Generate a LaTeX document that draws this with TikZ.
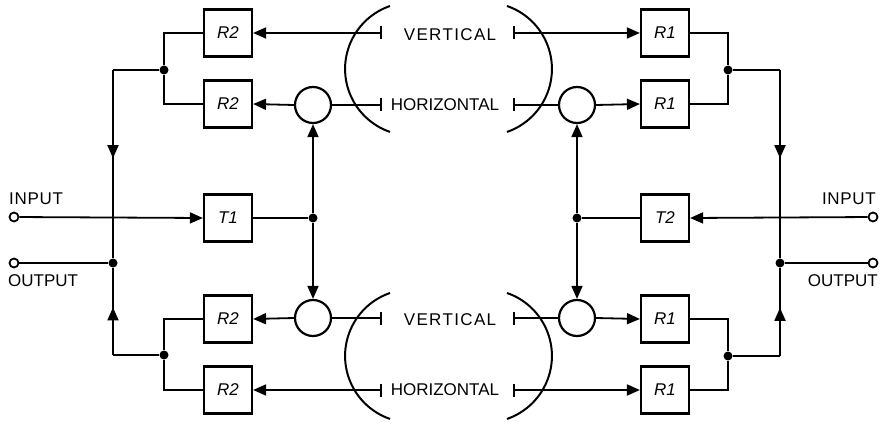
\documentclass[tikz,border=0pt]{standalone}
\usepackage{fontspec}
\setmainfont{Liberation Sans}
\usetikzlibrary{arrows.meta,decorations.markings}

\begin{document}
\begin{tikzpicture}[x=1pt,y=-1pt,
    font=\fontsize{17}{20}\selectfont,
    line width=1.8pt,
    block/.style={draw, line width=2.2pt, minimum width=48pt, minimum height=47pt, inner sep=0pt, font=\fontsize{17}{20}\selectfont\itshape},
    mixer/.style={draw, circle, line width=2.2pt, minimum size=36pt, inner sep=0pt},
    dot/.style={circle, fill, inner sep=0pt, minimum size=9pt},
    term/.style={circle, draw, fill=white, line width=1.8pt, inner sep=0pt, minimum size=9pt},
    port/.style={font=\fontsize{17}{20}\selectfont\addfontfeature{LetterSpace=#1}},
    feed/.style={arrows={-Triangle[length=13pt,width=11pt]}},
    bar/.style={arrows={Bar[width=13pt]-}},
    barfeed/.style={arrows={Bar[width=13pt]-Triangle[length=13pt,width=11pt]}},
    midarrow/.style={postaction={decorate}, decoration={markings, mark=at position #1 with {\arrow{Triangle[length=13pt,width=11pt]}}}}]
    \useasboundingbox (0,0) rectangle (881,422);

    % left blocks
    \node[block] (r2a) at (228,33) {R2};
    \node[block] (r2b) at (228,104) {R2};
    \node[block] (t1) at (228,218) {T1};
    \node[block] (r2c) at (228,319) {R2};
    \node[block] (r2d) at (228,390) {R2};
    % right blocks
    \node[block] (r1a) at (665,33) {R1};
    \node[block] (r1b) at (665,104) {R1};
    \node[block] (t2) at (665,218) {T2};
    \node[block] (r1c) at (665,319) {R1};
    \node[block] (r1d) at (665,390) {R1};

    % mixers
    \node[mixer] (mx_tl) at (313,105) {};
    \node[mixer] (mx_bl) at (313,318) {};
    \node[mixer] (mx_tr) at (577,105) {};
    \node[mixer] (mx_br) at (577,318) {};

    % junctions
    \node[dot] (j_tl) at (164,70) {};
    \node[dot] (j_bl) at (164,355) {};
    \node[dot] (j_tr) at (728,70) {};
    \node[dot] (j_br) at (728,356) {};
    \node[dot] (o_l) at (113,263) {};
    \node[dot] (o_r) at (780,263) {};
    \node[dot] (d_t1) at (313,218) {};
    \node[dot] (d_t2) at (577,218) {};
    \coordinate (c_tl) at (113,70);
    \coordinate (c_bl) at (113,355);
    \coordinate (c_tr) at (780,70);
    \coordinate (c_br) at (780,356);

    % terminals
    \node[term] (in_l) at (14,217) {};
    \node[term] (out_l) at (14,263) {};
    \node[term] (in_r) at (873,217) {};
    \node[term] (out_r) at (873,263) {};
    \node[anchor=west, port=4] (in_l_label) at (5,199) {INPUT};
    \node[anchor=west] (out_l_label) at (4,281) {OUTPUT};
    \node[anchor=east, port=4] (in_r_label) at (880,199) {INPUT};
    \node[anchor=east] (out_r_label) at (882,281) {OUTPUT};

    % antenna ports
    \node[port=8] (vert_top) at (450,35) {VERTICAL};
    \node (horiz_top) at (445,105) {HORIZONTAL};
    \node[port=8] (vert_bot) at (450,320) {VERTICAL};
    \node (horiz_bot) at (445,390) {HORIZONTAL};
    \coordinate (vt_l) at (382,33);
    \coordinate (ht_l) at (382,105);
    \coordinate (vb_l) at (382,318);
    \coordinate (hb_l) at (382,390);
    \coordinate (vt_r) at (513,33);
    \coordinate (ht_r) at (513,105);
    \coordinate (vb_r) at (513,318);
    \coordinate (hb_r) at (513,390);

    \draw[line width=2pt] (390,6) arc[start angle=251, end angle=109, radius=66.6];
    \draw[line width=2pt] (507,6) arc[start angle=289, end angle=431, radius=66.6];
    \draw[line width=2pt] (390,293) arc[start angle=251, end angle=109, radius=66.6];
    \draw[line width=2pt] (507,293) arc[start angle=289, end angle=431, radius=66.6];

    % left receivers
    \draw[barfeed] (vt_l) -- (r2a.east);
    \draw[bar] (ht_l) -- (mx_tl.east);
    \draw[feed] (mx_tl.west) -- (r2b.east);
    \draw[bar] (vb_l) -- (mx_bl.east);
    \draw[feed] (mx_bl.west) -- (r2c.east);
    \draw[barfeed] (hb_l) -- (r2d.east);

    % right receivers
    \draw[barfeed] (vt_r) -- (r1a.west);
    \draw[bar] (ht_r) -- (mx_tr.west);
    \draw[feed] (mx_tr.east) -- (r1b.west);
    \draw[bar] (vb_r) -- (mx_br.west);
    \draw[feed] (mx_br.east) -- (r1c.west);
    \draw[barfeed] (hb_r) -- (r1d.west);

    % transmitters
    \draw[feed] (in_l) -- (t1.west);
    \draw (t1.east) -- (d_t1);
    \draw[feed] (d_t1) -- (mx_tl.south);
    \draw[feed] (d_t1) -- (mx_bl.north);
    \draw[feed] (in_r) -- (t2.east);
    \draw (t2.west) -- (d_t2);
    \draw[feed] (d_t2) -- (mx_tr.south);
    \draw[feed] (d_t2) -- (mx_br.north);

    % left combiner
    \draw (r2a.west) -| (j_tl) |- (r2b.west);
    \draw (r2c.west) -| (j_bl) |- (r2d.west);
    \draw (j_tl) -- (c_tl);
    \draw[midarrow=0.47] (c_tl) -- (o_l);
    \draw (j_bl) -- (c_bl);
    \draw[midarrow=0.55] (c_bl) -- (o_l);
    \draw (out_l) -- (o_l);

    % right combiner
    \draw (r1a.east) -| (j_tr) |- (r1b.east);
    \draw (r1c.east) -| (j_br) |- (r1d.east);
    \draw (j_tr) -- (c_tr);
    \draw[midarrow=0.47] (c_tr) -- (o_r);
    \draw (j_br) -- (c_br);
    \draw[midarrow=0.55] (c_br) -- (o_r);
    \draw (out_r) -- (o_r);
\end{tikzpicture}
\end{document}
